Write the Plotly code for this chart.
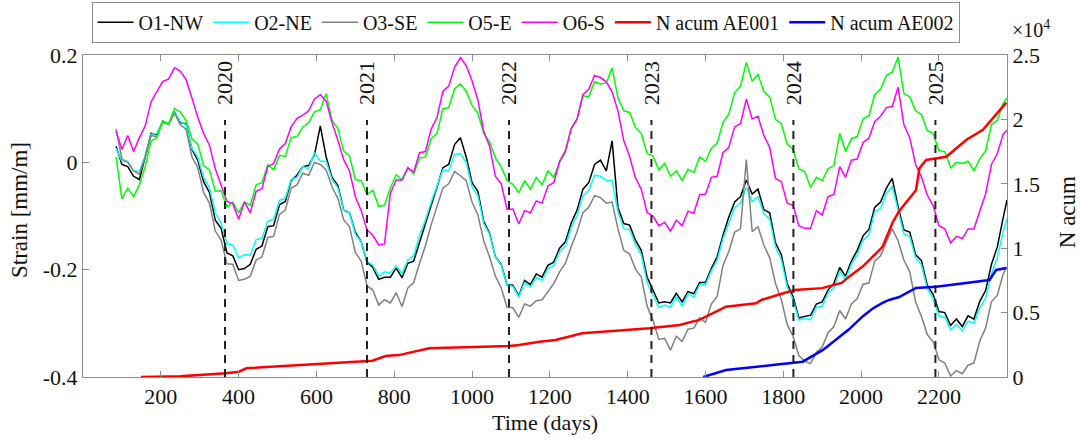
import plotly.graph_objects as go

# sampling grid (days) for the strain series
days = list(range(85, 2366, 15)) + [2375]

o1_nw = [
    0.030, -0.004, -0.008, -0.026, -0.032, 0.014, 0.054, 0.052, 0.077, 0.071,
    0.094, 0.074, 0.072, 0.024, 0.004, -0.036, -0.056, -0.108, -0.123, -0.169,
    -0.174, -0.200, -0.198, -0.190, -0.162, -0.156, -0.120, -0.118, -0.079, -0.073,
    -0.034, -0.024, -0.008, -0.006, 0.014, 0.068, 0.010, -0.028, -0.043, -0.089,
    -0.094, -0.130, -0.148, -0.186, -0.196, -0.218, -0.214, -0.214, -0.197, -0.215,
    -0.188, -0.184, -0.148, -0.116, -0.080, -0.046, -0.010, -0.004, 0.033, 0.046,
    0.010, -0.038, -0.054, -0.110, -0.132, -0.176, -0.190, -0.228, -0.229, -0.249,
    -0.220, -0.228, -0.208, -0.214, -0.192, -0.186, -0.160, -0.148, -0.113, -0.089,
    -0.050, -0.038, -0.004, 0.004, -0.016, 0.040, -0.084, -0.114, -0.117, -0.145,
    -0.164, -0.214, -0.238, -0.262, -0.260, -0.262, -0.244, -0.260, -0.241, -0.245,
    -0.224, -0.224, -0.198, -0.176, -0.136, -0.102, -0.074, -0.064, -0.033, -0.059,
    -0.050, -0.088, -0.094, -0.150, -0.172, -0.226, -0.250, -0.290, -0.287, -0.285,
    -0.264, -0.260, -0.238, -0.226, -0.196, -0.212, -0.184, -0.164, -0.137, -0.125,
    -0.084, -0.074, -0.048, -0.030, -0.082, -0.126, -0.130, -0.172, -0.183, -0.229,
    -0.246, -0.278, -0.280, -0.304, -0.292, -0.306, -0.286, -0.292, -0.259, -0.239,
    -0.190, -0.158, -0.104, -0.070,
]

o2_ne = [
    0.026, 0.002, 0.002, -0.016, -0.016, 0.012, 0.052, 0.054, 0.075, 0.073,
    0.094, 0.076, 0.070, 0.026, 0.010, -0.028, -0.047, -0.094, -0.113, -0.152,
    -0.154, -0.178, -0.172, -0.173, -0.144, -0.142, -0.110, -0.106, -0.071, -0.067,
    -0.032, -0.028, -0.008, -0.012, 0.018, 0.002, 0.002, -0.032, -0.047, -0.089,
    -0.094, -0.134, -0.148, -0.184, -0.192, -0.212, -0.204, -0.206, -0.193, -0.207,
    -0.182, -0.174, -0.136, -0.108, -0.074, -0.044, -0.014, -0.016, 0.015, 0.016,
    0.000, -0.046, -0.062, -0.114, -0.134, -0.176, -0.192, -0.228, -0.231, -0.251,
    -0.224, -0.232, -0.214, -0.220, -0.198, -0.192, -0.166, -0.156, -0.121, -0.099,
    -0.062, -0.052, -0.024, -0.026, -0.034, -0.034, -0.092, -0.124, -0.125, -0.153,
    -0.172, -0.224, -0.246, -0.270, -0.266, -0.270, -0.250, -0.268, -0.245, -0.251,
    -0.228, -0.228, -0.202, -0.182, -0.142, -0.112, -0.084, -0.076, -0.047, -0.073,
    -0.064, -0.096, -0.106, -0.158, -0.182, -0.232, -0.256, -0.294, -0.291, -0.293,
    -0.270, -0.268, -0.244, -0.234, -0.202, -0.218, -0.190, -0.172, -0.145, -0.135,
    -0.092, -0.086, -0.058, -0.044, -0.090, -0.134, -0.138, -0.178, -0.191, -0.235,
    -0.254, -0.286, -0.288, -0.312, -0.302, -0.314, -0.296, -0.300, -0.271, -0.253,
    -0.208, -0.178, -0.130, -0.105,
]

o3_se = [
    0.062, 0.006, 0.000, -0.016, -0.022, 0.010, 0.050, 0.048, 0.075, 0.071,
    0.092, 0.070, 0.062, 0.010, -0.010, -0.056, -0.076, -0.128, -0.145, -0.189,
    -0.190, -0.220, -0.218, -0.212, -0.182, -0.176, -0.140, -0.138, -0.097, -0.089,
    -0.048, -0.042, -0.020, -0.024, 0.000, -0.004, -0.014, -0.046, -0.067, -0.107,
    -0.120, -0.168, -0.184, -0.230, -0.238, -0.266, -0.256, -0.262, -0.243, -0.269,
    -0.234, -0.224, -0.188, -0.156, -0.116, -0.082, -0.048, -0.040, -0.017, -0.025,
    -0.034, -0.074, -0.098, -0.146, -0.176, -0.212, -0.234, -0.270, -0.271, -0.289,
    -0.264, -0.268, -0.258, -0.256, -0.240, -0.226, -0.204, -0.188, -0.157, -0.129,
    -0.094, -0.084, -0.062, -0.066, -0.076, -0.074, -0.124, -0.164, -0.171, -0.199,
    -0.214, -0.268, -0.294, -0.330, -0.328, -0.350, -0.324, -0.334, -0.311, -0.309,
    -0.290, -0.298, -0.264, -0.250, -0.192, -0.166, -0.130, -0.124, 0.005, -0.129,
    -0.120, -0.154, -0.178, -0.226, -0.256, -0.302, -0.324, -0.360, -0.371, -0.375,
    -0.354, -0.344, -0.318, -0.306, -0.276, -0.292, -0.264, -0.254, -0.227, -0.225,
    -0.184, -0.174, -0.148, -0.124, -0.146, -0.182, -0.204, -0.260, -0.287, -0.321,
    -0.334, -0.368, -0.374, -0.398, -0.388, -0.394, -0.378, -0.374, -0.333, -0.309,
    -0.260, -0.248, -0.208, -0.195,
]

o5_e = [
    0.010, -0.068, -0.048, -0.064, -0.042, -0.008, 0.040, 0.046, 0.077, 0.071,
    0.100, 0.094, 0.078, 0.044, 0.034, -0.006, -0.014, -0.054, -0.053, -0.083,
    -0.074, -0.094, -0.074, -0.080, -0.042, -0.038, -0.004, -0.014, 0.013, 0.011,
    0.046, 0.048, 0.066, 0.074, 0.094, 0.098, 0.128, 0.078, 0.063, 0.021,
    0.012, -0.032, -0.034, -0.060, -0.052, -0.082, -0.080, -0.048, -0.023, -0.033,
    -0.010, -0.022, 0.008, 0.010, 0.044, 0.054, 0.100, 0.102, 0.137, 0.146,
    0.132, 0.106, 0.092, 0.054, 0.038, 0.008, -0.008, -0.034, -0.041, -0.057,
    -0.034, -0.050, -0.028, -0.042, -0.016, -0.028, 0.000, 0.018, 0.063, 0.081,
    0.124, 0.122, 0.150, 0.146, 0.148, 0.176, 0.120, 0.096, 0.093, 0.065,
    0.054, 0.016, 0.012, -0.014, -0.002, -0.026, -0.016, -0.034, -0.013, -0.019,
    0.010, 0.002, 0.026, 0.036, 0.074, 0.090, 0.130, 0.142, 0.186, 0.151,
    0.164, 0.132, 0.122, 0.080, 0.072, 0.034, 0.024, -0.012, -0.017, -0.047,
    -0.028, -0.034, -0.012, -0.006, 0.054, 0.020, 0.044, 0.048, 0.081, 0.087,
    0.126, 0.136, 0.162, 0.168, 0.196, 0.128, 0.122, 0.096, 0.089, 0.059,
    0.054, 0.022, 0.020, -0.010, 0.000, -0.002, 0.002, -0.016, 0.007, 0.021,
    0.070, 0.078, 0.110, 0.120,
]

o6_s = [
    0.058, 0.024, 0.050, 0.020, 0.046, 0.068, 0.113, 0.132, 0.151, 0.155,
    0.176, 0.170, 0.154, 0.120, 0.084, 0.054, 0.032, -0.012, -0.043, -0.073,
    -0.077, -0.106, -0.074, -0.094, -0.054, -0.049, -0.008, -0.002, 0.025, 0.035,
    0.066, 0.082, 0.088, 0.096, 0.118, 0.126, 0.114, 0.074, 0.041, 0.005,
    -0.016, -0.064, -0.090, -0.126, -0.136, -0.154, -0.152, -0.058, -0.033, -0.033,
    -0.010, -0.018, 0.018, 0.020, 0.062, 0.084, 0.132, 0.142, 0.177, 0.195,
    0.180, 0.152, 0.116, 0.058, 0.030, -0.026, -0.040, -0.088, -0.087, -0.115,
    -0.090, -0.094, -0.072, -0.076, -0.044, -0.038, 0.002, 0.022, 0.063, 0.081,
    0.126, 0.136, 0.162, 0.158, 0.150, 0.131, 0.096, 0.040, 0.011, -0.029,
    -0.050, -0.094, -0.100, -0.118, -0.112, -0.128, -0.108, -0.118, -0.091, -0.095,
    -0.060, -0.060, -0.028, -0.026, 0.018, 0.028, 0.066, 0.072, 0.118, 0.081,
    0.086, 0.050, 0.028, -0.030, -0.036, -0.076, -0.080, -0.118, -0.123, -0.123,
    -0.090, -0.098, -0.064, -0.060, -0.008, -0.028, 0.004, 0.006, 0.037, 0.045,
    0.076, 0.086, 0.102, 0.104, 0.140, 0.070, 0.046, -0.004, -0.027, -0.061,
    -0.080, -0.118, -0.124, -0.150, -0.138, -0.142, -0.124, -0.124, -0.091, -0.059,
    -0.004, 0.016, 0.052, 0.060,
]

ae001_days = [149, 250, 367, 401, 420, 598, 744, 778, 812, 890, 1096, 1121, 1173,
              1215, 1283, 1456, 1533, 1584, 1618, 1653, 1730, 1745, 1800, 1830,
              1900, 1950, 1969, 2004, 2039, 2055, 2081, 2098, 2141, 2150, 2167,
              2219, 2270, 2313, 2373]
ae001_n = [0, 50, 290, 410, 675, 985, 1265, 1630, 1700, 2230, 2400, 2480, 2740,
           2870, 3390, 3780, 4040, 4430, 4940, 5460, 5720, 6000, 6500, 6750,
           6900, 7300, 7790, 8570, 9620, 10100, 12000, 12900, 14500, 16200, 16850,
           17100, 18400, 19200, 21300]

ae002_days = [1594, 1653, 1773, 1850, 1902, 1945, 1969, 2004, 2029, 2055, 2072,
              2098, 2141, 2193, 2270, 2330, 2347, 2373]
ae002_n = [0, 540, 930, 1190, 2100, 3100, 3700, 4700, 5300, 5750, 5980,
           6210, 6910, 7000, 7300, 7530, 8310, 8460]

year_days = [365, 730, 1095, 1461, 1826, 2191]
year_labels = ["2020", "2021", "2022", "2023", "2024", "2025"]

x_ticks = [200, 400, 600, 800, 1000, 1200, 1400, 1600, 1800, 2000, 2200]
y_ticks = [-0.4, -0.2, 0, 0.2]
y_ticklabels = ["-0.4", "-0.2", "0", "0.2"]
y2_ticks = [0, 5000, 10000, 15000, 20000, 25000]
y2_ticklabels = ["0", "0.5", "1", "1.5", "2", "2.5"]

for s in (o1_nw, o2_ne, o3_se, o5_e, o6_s):
    assert len(s) == len(days), (len(s), len(days))

FONT = "Liberation Serif, Times New Roman, serif"
AX = "#8c8c8c"
TXT = "#111111"

fig = go.Figure()
strain = [
    ("O1-NW", o1_nw, "#000000"),
    ("O2-NE", o2_ne, "#00ffff"),
    ("O3-SE", o3_se, "#808080"),
    ("O5-E", o5_e, "#00ff00"),
    ("O6-S", o6_s, "#ff00ff"),
]
for name, vals, col in strain:
    fig.add_trace(go.Scatter(x=days, y=vals, mode="lines", name=name,
                             line=dict(color=col, width=1.5)))
fig.add_trace(go.Scatter(x=ae001_days, y=ae001_n, mode="lines", name="N acum AE001",
                         line=dict(color="#ff0000", width=2.5), yaxis="y2"))
fig.add_trace(go.Scatter(x=ae002_days, y=ae002_n, mode="lines", name="N acum AE002",
                         line=dict(color="#0000ff", width=2.5), yaxis="y2"))

shapes = []
annotations = []
for d, lab in zip(year_days, year_labels):
    shapes.append(dict(type="line", xref="x", yref="y", x0=d, x1=d, y0=-0.4, y1=0.079,
                       line=dict(color="#222222", width=2, dash="8px,6px")))
    annotations.append(dict(x=d, y=0.148, xref="x", yref="y", text=lab, showarrow=False,
                            textangle=-90, xanchor="center", yanchor="middle",
                            font=dict(family=FONT, size=22, color=TXT)))

annotations += [
    dict(x=0.5, y=-0.142, xref="paper", yref="paper", text="Time (days)", showarrow=False,
         xanchor="center", yanchor="middle", font=dict(family=FONT, size=22, color=TXT)),
    dict(x=-0.068, y=0.519, xref="paper", yref="paper", text="Strain [mm/m]", showarrow=False,
         xanchor="center", yanchor="middle", textangle=-90,
         font=dict(family=FONT, size=23, color=TXT)),
    dict(x=1.065, y=0.512, xref="paper", yref="paper", text="N acum", showarrow=False,
         xanchor="center", yanchor="middle", textangle=-90,
         font=dict(family=FONT, size=23, color=TXT)),
    dict(x=1.003, y=1.08, xref="paper", yref="paper", text="×10<sup>4</sup>", showarrow=False,
         xanchor="left", yanchor="middle", font=dict(family=FONT, size=20, color=TXT)),
]

fig.update_layout(
    width=1081, height=444,
    margin=dict(l=83, r=74, t=55, b=67, autoexpand=False),
    paper_bgcolor="white", plot_bgcolor="white",
    font=dict(family=FONT, size=22, color=TXT),
    showlegend=True,
    legend=dict(orientation="h", x=0.479, xanchor="center", y=1.102, yanchor="middle",
                bordercolor=AX, borderwidth=1, bgcolor="white", itemwidth=36,
                font=dict(family=FONT, size=20, color=TXT)),
    xaxis=dict(range=[0, 2375], tickvals=x_ticks, ticks="inside", ticklen=6,
               tickcolor=AX, showline=True, linecolor=AX, linewidth=1, mirror="ticks",
               showgrid=False, zeroline=False,
               tickfont=dict(family=FONT, size=22, color=TXT)),
    yaxis=dict(range=[-0.4, 0.2], tickvals=y_ticks, ticktext=y_ticklabels,
               ticks="inside", ticklen=6, tickcolor=AX, showline=True, linecolor=AX,
               linewidth=1, showgrid=False, zeroline=False,
               tickfont=dict(family=FONT, size=22, color=TXT)),
    yaxis2=dict(range=[0, 25000], tickvals=y2_ticks, ticktext=y2_ticklabels,
                overlaying="y", side="right", ticks="inside", ticklen=6, tickcolor=AX,
                showline=True, linecolor=AX, linewidth=1, showgrid=False, zeroline=False,
                tickfont=dict(family=FONT, size=22, color=TXT)),
    shapes=shapes,
    annotations=annotations,
)

fig.write_html("out.html", config={"displayModeBar": False})
